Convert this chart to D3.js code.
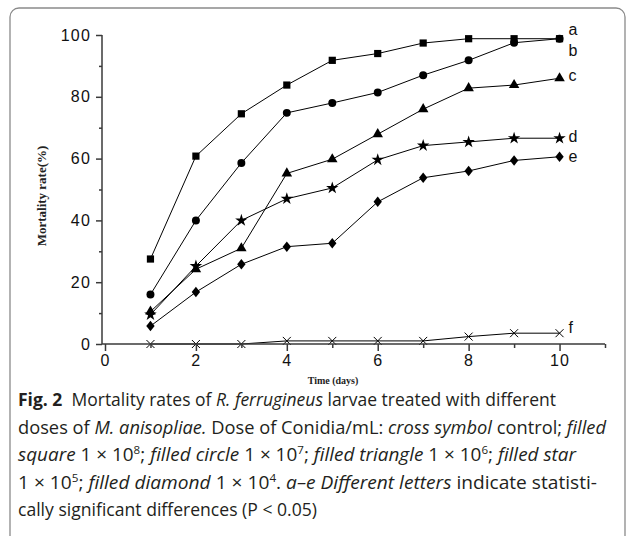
<!DOCTYPE html>
<html>
<head>
<meta charset="utf-8">
<script src="https://cdn.jsdelivr.net/npm/d3@7"></script>
<style>
  body { margin: 0; background: #fff; }
  svg { display: block; }
</style>
</head>
<body>
<svg id="chart" width="627" height="536"></svg>
<script>
// days on the x axis
const days = [1, 2, 3, 4, 5, 6, 7, 8, 9, 10];

// mortality (%) per dose
const square   = [27.5, 60.8, 74.5, 83.8, 91.8, 94.0, 97.4, 98.8, 98.8, 98.8];
const circle   = [16.0, 40.0, 58.6, 74.8, 78.0, 81.4, 87.0, 91.8, 97.5, 98.8];
const triangle = [10.5, 24.2, 31.0, 55.2, 59.8, 67.9, 76.0, 82.8, 83.8, 86.0];
const star     = [9.5, 25.2, 40.0, 47.0, 50.5, 59.6, 64.2, 65.4, 66.6, 66.6];
const diamond  = [5.8, 16.8, 25.8, 31.5, 32.6, 46.0, 53.8, 56.0, 59.4, 60.6];
const cross    = [0, 0, 0, 1.0, 1.0, 1.0, 1.0, 2.4, 3.5, 3.5];

const letters = ["a", "b", "c", "d", "e", "f"];
const yTicks = [0, 20, 40, 60, 80, 100];
const xTicks = [0, 2, 4, 6, 8, 10];

const series = [
  {name: "a", shape: "square", values: square},
  {name: "b", shape: "circle", values: circle},
  {name: "c", shape: "triangle", values: triangle},
  {name: "d", shape: "star", values: star},
  {name: "e", shape: "diamond", values: diamond},
  {name: "f", shape: "cross", values: cross}
];

const svg = d3.select("#chart");

// rounded frame round figure + caption
svg.append("rect")
  .attr("x", 10).attr("y", 8)
  .attr("width", 615).attr("height", 545)
  .attr("rx", 9)
  .attr("fill", "none")
  .attr("stroke", "#8a8a8a")
  .attr("stroke-width", 1.3);

const x = d3.scaleLinear().domain([0, 11]).range([105, 605]);
const y = d3.scaleLinear().domain([0, 100]).range([344, 35]);

const axisColor = "#3a3a3a";

// series lines
const line = d3.line()
  .x((d, i) => x(days[i]))
  .y(d => y(d));

svg.append("g")
  .selectAll("path")
  .data(series)
  .join("path")
  .attr("d", d => line(d.values))
  .attr("fill", "none")
  .attr("stroke", "#000")
  .attr("stroke-width", 1);

// markers
const symbolType = {
  square: d3.symbolSquare,
  circle: d3.symbolCircle,
  triangle: d3.symbolTriangle,
  star: d3.symbolStar,
  diamond: d3.symbolDiamond
};
const symbolSize = {square: 52, circle: 50, triangle: 48, star: 48, diamond: 50};

series.forEach(s => {
  const g = svg.append("g");
  const pts = s.values.map((v, i) => [x(days[i]), y(v)]);
  if (s.shape === "cross") {
    g.selectAll("path")
      .data(pts)
      .join("path")
      .attr("d", d => `M${d[0]-4},${d[1]-4}L${d[0]+4},${d[1]+4}M${d[0]+4},${d[1]-4}L${d[0]-4},${d[1]+4}`)
      .attr("stroke", "#000")
      .attr("stroke-width", 1);
  } else {
    const sym = d3.symbol().type(symbolType[s.shape]).size(symbolSize[s.shape]);
    g.selectAll("path")
      .data(pts)
      .join("path")
      .attr("transform", d => `translate(${d[0]},${d[1]})${s.shape === "diamond" ? " scale(1.1,0.8)" : ""}`)
      .attr("d", sym)
      .attr("fill", "#000");
  }
});

// end letters
const letterDy = {a: -4, b: 17, c: 3, d: 4, e: 5, f: 0};
svg.append("g")
  .selectAll("text")
  .data(series)
  .join("text")
  .attr("x", x(10) + 9)
  .attr("y", d => y(d.values[d.values.length - 1]) + letterDy[d.name])
  .attr("font-family", "Liberation Sans, Arial, sans-serif")
  .attr("font-size", 16)
  .attr("fill", "#111")
  .text((d, i) => letters[i]);

// y axis
const yAxis = svg.append("g").attr("transform", "translate(102,0)")
  .call(d3.axisLeft(y).tickValues(yTicks).tickSize(6).tickPadding(5));
svg.append("g").attr("transform", "translate(102,0)")
  .call(d3.axisLeft(y).tickValues([10, 30, 50, 70, 90]).tickSize(3).tickFormat(""))
  .call(g => g.select(".domain").remove());

// x axis
const xAxis = svg.append("g").attr("transform", "translate(0,344)")
  .call(d3.axisBottom(x).tickValues(xTicks).tickSize(7).tickPadding(4));
svg.append("g").attr("transform", "translate(0,344)")
  .call(d3.axisBottom(x).tickValues([1, 3, 5, 7, 9, 11]).tickSize(4).tickFormat(""))
  .call(g => g.select(".domain").remove());

xAxis.select(".domain").attr("d", "M102,0H605");
yAxis.select(".domain").attr("d", "M0,35V344");

svg.selectAll(".domain, .tick line")
  .attr("stroke", axisColor)
  .attr("stroke-width", 1.5);
svg.selectAll(".tick text")
  .attr("font-family", "Liberation Sans, Arial, sans-serif")
  .attr("font-size", 16)
  .attr("letter-spacing", 1.2)
  .attr("fill", "#111");

// axis titles
svg.append("text")
  .attr("transform", "translate(46,196) rotate(-90)")
  .attr("text-anchor", "middle")
  .attr("font-family", "Liberation Serif, Times New Roman, serif")
  .attr("font-size", 13)
  .attr("font-weight", "bold")
  .attr("fill", "#222")
  .text("Mortality rate(%)");

svg.append("text")
  .attr("x", 333).attr("y", 384)
  .attr("text-anchor", "middle")
  .attr("font-family", "Liberation Serif, Times New Roman, serif")
  .attr("font-size", 10)
  .attr("font-weight", "bold")
  .attr("fill", "#222")
  .text("Time (days)");

// caption
const captionLines = [
  {w: 538, parts: [["Fig. 2", "b"], ["  Mortality rates of "], ["R. ferrugineus", "i"], [" larvae treated with different"]]},
  {w: 588, parts: [["doses of "], ["M. anisopliae.", "i"], [" Dose of Conidia/mL: "], ["cross symbol", "i"], [" control; "], ["filled", "i"]]},
  {w: 558, parts: [["square", "i"], [" 1 × 10"], ["8", "s"], ["; "], ["filled circle", "i"], [" 1 × 10"], ["7", "s"], ["; "], ["filled triangle", "i"], [" 1 × 10"], ["6", "s"], ["; "], ["filled star", "i"]]},
  {w: 579, parts: [["1 × 10"], ["5", "s"], ["; "], ["filled diamond", "i"], [" 1 × 10"], ["4", "s"], [". "], ["a–e Different letters", "i"], [" indicate statisti-"]]},
  {w: 299, parts: [["cally significant differences (P < 0.05)"]]}
];

const caption = svg.append("g")
  .attr("font-family", "Open Sans, Noto Sans, sans-serif")
  .attr("font-size", 18)
  .attr("fill", "#231f20");

captionLines.forEach((ln, i) => {
  const t = caption.append("text")
    .attr("x", 18)
    .attr("y", 406 + i * 27.5)
    .attr("textLength", ln.w)
    .attr("lengthAdjust", "spacingAndGlyphs")
    .attr("xml:space", "preserve")
    .style("white-space", "pre");
  let raised = false;
  ln.parts.forEach(([str, st]) => {
    const sp = t.append("tspan").text(str);
    if (st === "b") sp.attr("font-weight", "bold");
    if (st === "i") sp.attr("font-style", "italic");
    if (st === "s") {
      sp.attr("font-size", 11).attr("dy", -7);
      raised = true;
    } else if (raised) {
      sp.attr("dy", 7);
      raised = false;
    }
  });
});
</script>
</body>
</html>
